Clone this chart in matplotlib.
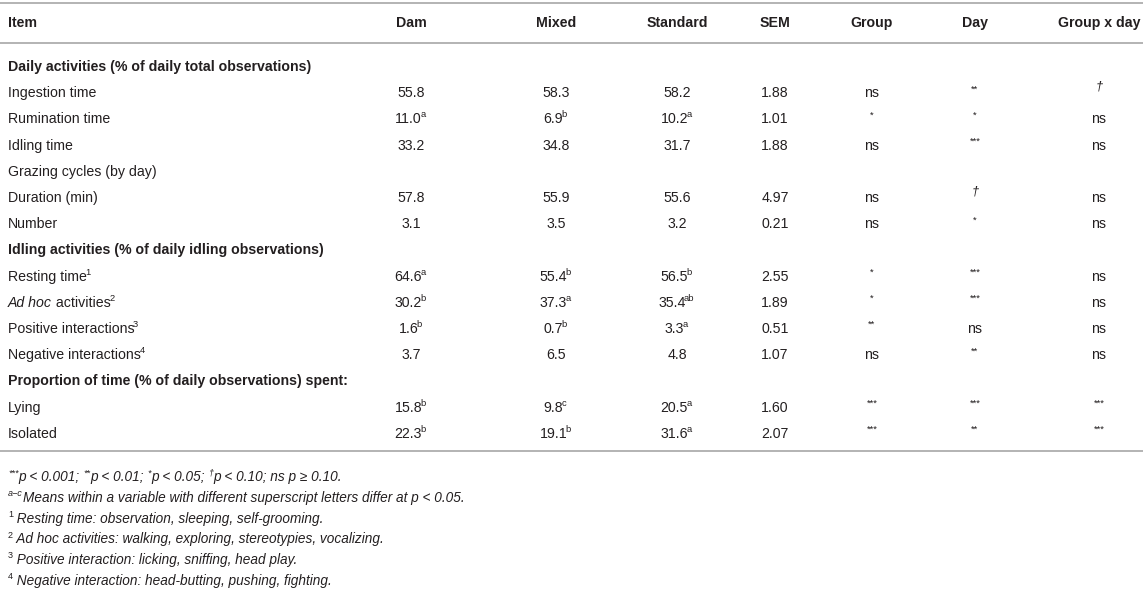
import matplotlib
matplotlib.use("Agg")
import matplotlib.pyplot as plt
from matplotlib.lines import Line2D

plt.rcParams["font.family"] = ["Liberation Sans", "DejaVu Sans"]

# table content
columns = ["Dam", "Mixed", "Standard", "SEM", "Group", "Day", "Group x day"]

row_labels = ["Ingestion time", "Rumination time", "Idling time", "Grazing cycles (by day)",
              "Duration (min)", "Number", "Resting time", "Ad hoc activities",
              "Positive interactions", "Negative interactions", "Lying", "Isolated"]
label_sup = ["", "", "", "", "", "", "1", "2", "3", "4", "", ""]

sections = {0: "Daily activities (% of daily total observations)",
            6: "Idling activities (% of daily idling observations)",
            10: "Proportion of time (% of daily observations) spent:"}

dam = ["55.8", "11.0", "33.2", "", "57.8", "3.1", "64.6", "30.2", "1.6", "3.7", "15.8", "22.3"]
dam_sup = ["", "a", "", "", "", "", "a", "b", "b", "", "b", "b"]
mixed = ["58.3", "6.9", "34.8", "", "55.9", "3.5", "55.4", "37.3", "0.7", "6.5", "9.8", "19.1"]
mixed_sup = ["", "b", "", "", "", "", "b", "a", "b", "", "c", "b"]
standard = ["58.2", "10.2", "31.7", "", "55.6", "3.2", "56.5", "35.4", "3.3", "4.8", "20.5", "31.6"]
standard_sup = ["", "a", "", "", "", "", "b", "ab", "a", "", "a", "a"]
sem = ["1.88", "1.01", "1.88", "", "4.97", "0.21", "2.55", "1.89", "0.51", "1.07", "1.60", "2.07"]
group = ["ns", "*", "ns", "", "ns", "ns", "*", "*", "**", "ns", "***", "***"]
day = ["**", "*", "***", "", "†", "*", "***", "***", "ns", "**", "***", "**"]
group_day = ["†", "ns", "ns", "", "ns", "ns", "ns", "ns", "ns", "ns", "***", "***"]

W, H = 1143, 590
TXT = "#231f20"
LINE = "#b3b3b3"
FS = 10.2

fig = plt.figure(figsize=(W / 100, H / 100), dpi=100)
renderer = fig.canvas.get_renderer()


def text_width(s, size, style, weight):
    # bars around the string so that edge spaces are counted
    t = fig.text(0, 0, "|" + s + "|", fontsize=size, fontstyle=style, fontweight=weight)
    t2 = fig.text(0, 0, "||", fontsize=size, fontstyle=style, fontweight=weight)
    w = t.get_window_extent(renderer).width - t2.get_window_extent(renderer).width
    t.remove()
    t2.remove()
    return w


def runs(x, y, parts, ha="left", size=FS, weight="normal", sup_scale=0.66):
    # parts: (text, superscript?, italic?)
    specs = []
    for s, sup, ital in parts:
        sz = size * sup_scale if sup else size
        st = "italic" if ital else "normal"
        specs.append((s, sz, st, sup, text_width(s, sz, st, weight)))
    total = sum(p[4] for p in specs)
    cx = x - total / 2 if ha == "center" else x
    prev = None
    for s, sz, st, sup, w in specs:
        if sup and prev is not None and not prev[1] and not prev[0].endswith(" "):
            cx -= 1.5
        yy = y - (size * 0.42 * 100 / 72 if sup else 0)
        fig.text(cx / W, 1 - yy / H, s, fontsize=sz, fontstyle=st, fontweight=weight,
                 color=TXT, va="baseline", ha="left")
        cx += w
        prev = (s, sup)


def hline(y, lw=1.4):
    fig.add_artist(Line2D([0, 1], [1 - y / H, 1 - y / H], color=LINE, lw=lw,
                          transform=fig.transFigure))


col_x = [411, 556, 677, 775, 872, 975, 1099]
label_x = 8

# header
hline(3)
runs(label_x, 27, [("Item", False, False)], weight="bold")
for cx, name in zip(col_x, columns):
    runs(cx, 27, [(name, False, False)], ha="center", weight="bold")
hline(43)

pitch = 26.2
y0 = 71
line_no = 0
for i, lab in enumerate(row_labels):
    if i in sections:
        runs(label_x, y0 + pitch * line_no, [(sections[i], False, False)], weight="bold")
        line_no += 1
    y = y0 + pitch * line_no
    if lab.startswith("Ad hoc"):
        parts = [("Ad hoc", False, True), (" activities", False, False)]
    else:
        parts = [(lab, False, False)]
    if label_sup[i]:
        parts.append((label_sup[i], True, False))
    runs(label_x, y, parts)

    for cx, v, sp in zip(col_x[:3], [dam[i], mixed[i], standard[i]],
                         [dam_sup[i], mixed_sup[i], standard_sup[i]]):
        if v:
            p = [(v, False, False)]
            if sp:
                p.append((sp, True, False))
            runs(cx, y, p, ha="center")
    if sem[i]:
        runs(col_x[3], y, [(sem[i], False, False)], ha="center")
    for cx, v in zip(col_x[4:], [group[i], day[i], group_day[i]]):
        if not v:
            continue
        if v == "ns":
            runs(cx, y, [(v, False, False)], ha="center")
        elif v == "†":
            runs(cx, y - 1.5, [(v, True, True)], ha="center", sup_scale=0.9)
        else:
            runs(cx, y, [(v, True, False)], ha="center")
    line_no += 1

hline(451)

# footnotes
FN = 9.8
fy = 481
fp = 20.8
runs(label_x, fy, [("***", True, True), ("p < 0.001; ", False, True), ("**", True, True),
                   ("p < 0.01; ", False, True), ("*", True, True), ("p < 0.05; ", False, True),
                   ("†", True, True), ("p < 0.10; ns p ≥ 0.10.", False, True)], size=FN)
runs(label_x, fy + fp, [("a−c", True, True),
                        ("Means within a variable with different superscript letters differ at p < 0.05.", False, True)],
     size=FN)
notes = ["Resting time: observation, sleeping, self-grooming.",
         "Ad hoc activities: walking, exploring, stereotypies, vocalizing.",
         "Positive interaction: licking, sniffing, head play.",
         "Negative interaction: head-butting, pushing, fighting."]
for k, note in enumerate(notes):
    runs(label_x, fy + fp * (k + 2), [(str(k + 1), True, False), (" " + note, False, True)], size=FN)

fig.savefig("out.png", dpi=100)
